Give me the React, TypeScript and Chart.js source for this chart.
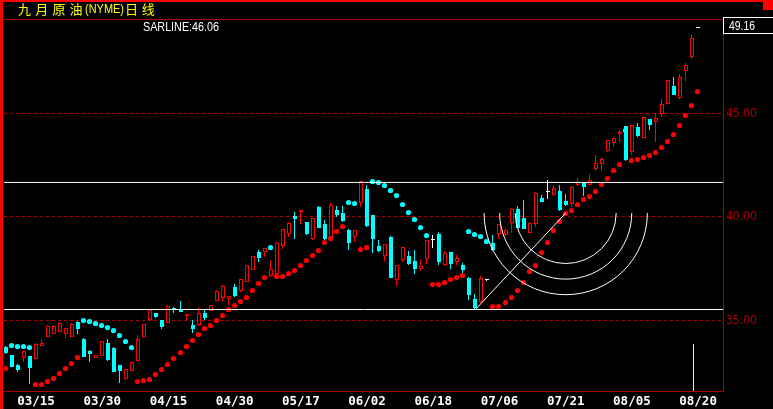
import React, { useEffect, useRef } from 'react';
import { Chart, registerables } from 'chart.js';

Chart.register(...registerables);

// ---------------- data ----------------
const opens = [
  33.70, 33.32, 32.86, 33.19, 33.28, 33.16, 33.77, 34.21, 34.35, 34.45,
  34.37, 34.21, 34.95, 34.13, 33.55, 33.21, 33.29, 33.92, 33.68, 32.84,
  32.15, 32.57, 33.05, 34.21, 35.00, 35.35, 35.01, 34.90, 35.62, 35.53,
  35.22, 34.79, 34.76, 35.35, 35.46, 35.95, 36.11, 36.03, 36.63, 36.42,
  36.86, 37.46, 38.31, 38.31, 37.14, 37.27, 38.59, 39.20, 40.04, 40.23,
  39.76, 38.93, 40.49, 39.68, 39.04, 40.33, 40.20, 39.36, 39.04, 40.68,
  41.34, 40.09, 38.59, 38.11, 39.01, 36.95, 37.91, 38.11, 37.86, 37.49,
  37.96, 38.92, 39.17, 37.67, 38.31, 37.83, 37.67, 37.06, 36.03, 35.90,
  36.98, 38.75, 39.20, 39.12, 39.71, 40.38, 39.93, 39.25, 39.64, 40.93,
  41.25, 41.05, 41.26, 40.78, 40.65, 41.54, 41.62, 41.54, 42.31, 42.55,
  43.18, 43.58, 44.03, 44.39, 43.14, 44.35, 43.84, 44.72, 44.57, 44.97,
  45.48, 46.32, 45.77, 47.06, 47.73, 49.16,
];
const highs = [
  33.75, 33.35, 32.90, 33.55, 33.30, 33.90, 34.10, 34.78, 34.78, 34.92,
  34.65, 34.90, 34.98, 34.15, 33.57, 33.33, 34.02, 34.10, 33.72, 32.86,
  32.67, 33.01, 34.29, 34.85, 35.55, 35.37, 35.03, 35.75, 35.65, 35.93,
  35.32, 35.01, 35.63, 35.53, 35.76, 36.45, 36.71, 36.20, 36.75, 37.01,
  37.70, 38.13, 38.40, 38.51, 37.91, 38.78, 39.43, 39.74, 40.25, 40.35,
  39.78, 39.95, 40.55, 39.85, 40.68, 40.54, 40.52, 39.44, 39.38, 41.75,
  41.54, 40.12, 38.88, 38.71, 39.06, 37.69, 38.55, 38.36, 38.40, 37.91,
  38.90, 39.12, 39.28, 38.35, 38.33, 38.16, 37.77, 37.08, 36.30, 37.16,
  36.98, 39.12, 39.67, 39.44, 40.43, 40.52, 40.81, 39.75, 41.20, 41.05,
  41.78, 41.54, 41.54, 41.10, 41.48, 41.86, 41.64, 42.07, 42.99, 42.89,
  43.74, 43.86, 44.19, 44.41, 44.45, 44.52, 44.90, 44.74, 45.00, 45.69,
  46.63, 46.74, 46.90, 47.44, 48.78, 49.16,
];
const lows = [
  33.40, 32.74, 32.50, 33.00, 31.91, 33.14, 33.75, 34.18, 34.33, 34.43,
  34.16, 34.18, 34.35, 33.22, 33.00, 33.19, 33.27, 33.06, 32.50, 31.99,
  32.13, 32.55, 33.03, 34.19, 34.98, 35.14, 34.57, 34.88, 35.37, 35.41,
  35.01, 34.42, 34.74, 35.01, 35.44, 35.93, 35.95, 35.74, 36.15, 36.40,
  36.84, 37.44, 37.83, 38.07, 37.12, 37.25, 38.43, 39.04, 38.96, 39.65,
  39.11, 38.91, 39.45, 38.88, 39.02, 40.00, 39.78, 38.40, 38.80, 40.49,
  39.54, 38.27, 38.33, 37.88, 37.04, 36.66, 37.83, 37.67, 37.24, 37.40,
  37.75, 38.48, 37.67, 37.65, 37.48, 37.67, 37.30, 35.98, 35.53, 35.85,
  36.98, 38.38, 38.96, 39.10, 39.23, 39.45, 39.42, 39.23, 39.52, 40.71,
  40.89, 41.03, 40.31, 40.55, 40.49, 41.52, 41.00, 41.52, 42.23, 42.23,
  43.16, 43.39, 43.63, 42.72, 42.99, 43.88, 43.82, 44.19, 43.63, 44.84,
  45.46, 45.88, 45.68, 46.57, 47.62, 49.16,
];
const closes = [
  33.43, 32.76, 32.60, 33.52, 32.71, 33.86, 33.92, 34.73, 34.74, 34.90,
  34.63, 34.83, 34.59, 33.24, 33.39, 33.31, 34.00, 33.08, 32.52, 32.55,
  32.65, 32.99, 34.13, 34.82, 35.53, 35.16, 34.69, 35.72, 35.53, 35.43,
  35.29, 34.57, 35.34, 35.10, 35.74, 36.43, 36.66, 36.17, 36.17, 36.99,
  37.67, 38.11, 38.00, 38.49, 37.48, 38.75, 39.41, 39.72, 39.89, 40.33,
  39.20, 39.93, 39.47, 38.96, 40.57, 40.09, 39.80, 38.75, 39.36, 41.73,
  39.56, 38.93, 38.35, 38.69, 37.06, 37.67, 38.54, 37.75, 37.51, 37.62,
  38.88, 38.92, 37.83, 38.27, 37.72, 38.02, 37.46, 36.22, 35.58, 37.06,
  36.98, 38.40, 39.65, 39.36, 40.40, 39.47, 39.44, 39.73, 41.14, 40.73,
  41.25, 41.38, 40.33, 40.57, 41.46, 41.67, 41.45, 41.81, 42.63, 42.79,
  43.71, 43.84, 44.11, 42.74, 44.43, 43.90, 44.84, 44.43, 44.77, 45.45,
  46.61, 45.90, 46.76, 47.33, 48.67, 49.16,
];
// Parabolic SAR, one value per bar (below price = rising, above = falling)
const sarValues = [
  32.66, 33.77, 33.76, 33.74, 33.70, 31.92, 31.92, 32.03, 32.21, 32.42,
  32.66, 32.90, 33.19, 34.98, 34.93, 34.86, 34.76, 34.64, 34.50, 34.26,
  33.97, 33.68, 32.03, 32.08, 32.16, 32.37, 32.61, 32.86, 33.16, 33.45,
  33.75, 34.05, 34.33, 34.61, 34.77, 34.98, 35.26, 35.55, 35.71, 35.90,
  36.13, 36.43, 36.77, 37.09, 38.51, 37.14, 37.14, 37.25, 37.40, 37.64,
  37.88, 38.12, 38.36, 38.75, 38.94, 39.28, 39.52, 40.68, 40.63, 38.44,
  38.54, 41.73, 41.68, 41.54, 41.30, 41.02, 40.58, 40.23, 39.89, 39.47,
  39.09, 36.72, 36.75, 36.85, 36.96, 37.06, 37.19, 39.28, 39.17, 39.04,
  38.83, 35.66, 35.69, 35.88, 36.09, 36.43, 36.85, 37.35, 37.67, 38.27,
  38.75, 39.36, 39.80, 40.15, 40.33, 40.58, 40.85, 40.97, 41.21, 41.57,
  41.84, 42.23, 42.55, 44.20, 42.74, 42.79, 42.86, 42.99, 43.13, 43.34,
  43.63, 44.00, 44.43, 44.92, 45.40, 46.06,
];
const tickBars = [5, 16, 27, 38, 49, 60, 71, 82, 93, 104, 115];
const tickLabels = ['03/15', '03/30', '04/15', '04/30', '05/17', '06/02', '06/18', '07/06', '07/21', '08/05', '08/20'];
const priceTicks = [35, 40, 45];
const supportLevels = [41.67, 35.53];
const fibStart = { bar: 78, price: 35.53 };
const fibEnd = { bar: 93, price: 40.19 };
const fibRatios = [0.382, 0.5, 0.618];
const cursorBar = { bar: 114.4, top: 33.86 };
const titleParts = ['九月原油', '(NYME)', '日线'];
const sarName = 'SARLINE';

// ---------------- styles / layout ----------------
const W = 773;
const H = 409;
const RED = '#ff0000';
const CYAN = '#00ffff';
const DARK_RED = '#b00000';
const BAR_STEP = 6.027;
const X_MIN = -(4.97 - 3) / BAR_STEP;
const X_MAX = X_MIN + 720 / BAR_STEP;
const Y_MAX = 45 + (113.5 - 19) / 20.7;
const Y_MIN = Y_MAX - 372 / 20.7;

function pickFamily(cands: string[], size: number): string | null {
  const c = document.createElement('canvas').getContext('2d')!;
  c.font = `${size}px monospace`;
  const base = c.measureText('45.00 SARLINE').width;
  for (const f of cands) {
    c.font = `${size}px "${f}", monospace`;
    if (Math.abs(c.measureText('45.00 SARLINE').width - base) > 0.2) return f;
  }
  return null;
}

function drawText(
  ctx: CanvasRenderingContext2D, text: string, x: number, y: number, font: string,
  color: string, width?: number, baseline: CanvasTextBaseline = 'alphabetic', spacing = '0px',
) {
  ctx.save();
  ctx.font = font;
  ctx.fillStyle = color;
  ctx.textBaseline = baseline;
  ctx.textAlign = 'left';
  (ctx as any).letterSpacing = spacing;
  if (width) {
    const w = ctx.measureText(text).width;
    ctx.translate(x, y);
    ctx.scale(width / w, 1);
    ctx.fillText(text, 0, 0);
  } else {
    ctx.fillText(text, x, y);
  }
  ctx.restore();
}

export default function App() {
  const ref = useRef<HTMLCanvasElement>(null);

  useEffect(() => {
    document.body.style.margin = '0';
    document.body.style.background = '#000';
    const narrow = pickFamily(['Liberation Sans Narrow', 'DejaVu Sans Condensed'], 13);
    const yFont = narrow === 'Liberation Sans Narrow'
      ? { family: '"Liberation Sans Narrow"', size: 13 }
      : narrow ? { family: `"${narrow}"`, size: 12 } : { family: '"Liberation Sans"', size: 11 };

    const n = closes.length;
    const colorOf = (i: number) => (closes[i] > opens[i] ? RED : closes[i] < opens[i] ? CYAN : '#ffffff');
    const colors = closes.map((_, i) => colorOf(i));
    const bodyFill = closes.map((_, i) => (closes[i] > opens[i] ? '#000000' : colorOf(i)));

    const bodies = opens.map((o, i) => {
      const c = closes[i];
      return { x: i, y: o === c ? [o - 0.02, o + 0.02] : [Math.min(o, c), Math.max(o, c)] };
    });
    const wicks = lows.map((l, i) => ({ x: i, y: [l, highs[i]] }));
    const sarBelow = sarValues.map((v, i) => (v < closes[i] ? { x: i, y: v } : null)).filter(Boolean);
    const sarAbove = sarValues.map((v, i) => (v >= closes[i] ? { x: i, y: v } : null)).filter(Boolean);

    const decor = {
      id: 'decor',
      beforeDraw(chart: any) {
        const ctx = chart.ctx as CanvasRenderingContext2D;
        ctx.save();
        ctx.fillStyle = '#000';
        ctx.fillRect(0, 0, W, H);
        ctx.restore();
      },
      // snap the marks onto whole device pixels, as the original terminal draws them
      beforeDatasetsDraw(chart: any) {
        chart.getSortedVisibleDatasetMetas().forEach((meta: any) => {
          const snap = chart.data.datasets[meta.index].snap;
          if (!snap) return;
          meta.data.forEach((el: any) => {
            const X = Math.round(el.x);
            if (snap === 'body' || snap === 'wick') {
              el.x = snap === 'body' ? X : X - 0.5;
              const t = Math.round(el.y);
              let b = Math.round(el.base);
              if (b === t) b = t + 1;
              el.y = t;
              el.base = b;
            } else if (snap === 'point') {
              el.x = X - 0.5;
              el.y = Math.round(el.y - 0.5) + 0.5;
            }
          });
        });
      },
      afterDatasetsDraw(chart: any) {
        const ctx = chart.ctx as CanvasRenderingContext2D;
        const xs = chart.scales.x;
        const ys = chart.scales.y;
        const ax = xs.getPixelForValue(fibStart.bar);
        const ay = ys.getPixelForValue(fibStart.price);
        const bx = xs.getPixelForValue(fibEnd.bar);
        const by = ys.getPixelForValue(fibEnd.price);
        const d = Math.hypot(bx - ax, by - ay);
        const a = chart.chartArea;
        ctx.save();
        ctx.beginPath();
        ctx.rect(a.left, a.top, a.right - a.left, a.bottom - a.top);
        ctx.clip();
        ctx.strokeStyle = '#ffffff';
        ctx.lineWidth = 1;
        for (const r of fibRatios) {
          ctx.beginPath();
          ctx.arc(bx, by, r * d, 0, Math.PI);
          ctx.stroke();
        }
        ctx.restore();
      },
      afterDraw(chart: any) {
        const ctx = chart.ctx as CanvasRenderingContext2D;
        const a = chart.chartArea;
        ctx.save();
        ctx.fillStyle = DARK_RED;
        ctx.fillRect(a.left, a.top, a.right - a.left, 1);
        ctx.fillStyle = RED;
        ctx.fillRect(0, 0, W, 2);
        ctx.fillRect(0, 0, 3, H);
        ctx.fillRect(763, 0, 10, 10);
        ctx.strokeStyle = '#ffffff';
        ctx.lineWidth = 1;
        ctx.strokeRect(723.5, 17.5, 50, 16);
        ctx.restore();
        const last = closes[n - 1].toFixed(2);
        drawText(ctx, last, 729, 30, '13px "Liberation Sans"', '#ffffff', 26);
        drawText(ctx, `${sarName}:${sarValues[n - 1].toFixed(2)}`, 143, 31, '13px "Liberation Sans"', '#ffffff', 76);
        const cjk = '13px "Noto Sans CJK SC"';
        drawText(ctx, titleParts[0], 18, 9, cjk, '#ffff00', undefined, 'middle', '4.2px');
        drawText(ctx, titleParts[1], 85, 9.5, '13px "Liberation Sans"', '#ffff00', 39, 'middle');
        drawText(ctx, titleParts[2], 125, 9, cjk, '#ffff00', undefined, 'middle', '3.7px');
      },
    };

    const lineDs = (data: any[]) => ({
      type: 'line' as const,
      data,
      borderColor: '#ffffff',
      borderWidth: 1,
      pointRadius: 0,
      fill: false,
      tension: 0,
      order: 1,
    });

    const chart = new Chart(ref.current!, {
      type: 'bar',
      data: {
        datasets: [
          ...supportLevels.map((lv) => lineDs([{ x: X_MIN, y: lv }, { x: X_MAX, y: lv }])),
          lineDs([{ x: fibStart.bar, y: fibStart.price }, { x: fibEnd.bar, y: fibEnd.price }]),
          {
            type: 'bar',
            snap: 'body',
            data: bodies as any,
            backgroundColor: bodyFill,
            borderColor: colors,
            borderWidth: 1,
            borderSkipped: false,
            barThickness: 4,
            grouped: false,
            inflateAmount: 0,
            order: 2,
          } as any,
          {
            type: 'bar',
            snap: 'wick',
            data: wicks as any,
            backgroundColor: colors,
            borderWidth: 0,
            barThickness: 1,
            grouped: false,
            inflateAmount: 0,
            order: 3,
          } as any,
          {
            type: 'bar',
            snap: 'wick',
            data: [{ x: cursorBar.bar, y: [Y_MIN, cursorBar.top] }] as any,
            backgroundColor: '#ffff00',
            borderWidth: 0,
            barThickness: 1,
            grouped: false,
            inflateAmount: 0,
            order: 3,
          } as any,
          {
            type: 'scatter',
            snap: 'point',
            data: sarBelow as any,
            backgroundColor: RED,
            borderWidth: 0,
            pointRadius: 2.6,
            pointStyle: 'circle',
            order: 4,
          } as any,
          {
            type: 'scatter',
            snap: 'point',
            data: sarAbove as any,
            backgroundColor: CYAN,
            borderWidth: 0,
            pointRadius: 2.6,
            pointStyle: 'circle',
            order: 4,
          } as any,
        ],
      },
      options: {
        responsive: false,
        animation: false,
        devicePixelRatio: 1,
        events: [],
        layout: { padding: { left: 3, top: 19, right: 0, bottom: 0 } },
        plugins: {
          legend: { display: false },
          tooltip: { enabled: false },
          title: { display: false },
        },
        scales: {
          x: {
            type: 'linear',
            min: X_MIN,
            max: X_MAX,
            offset: false,
            grid: { display: false, drawTicks: false },
            border: { display: true, color: DARK_RED, width: 1 },
            ticks: {
              color: '#ffffff',
              font: { family: '"DejaVu Sans Mono"', size: 12.5, weight: 'bold' },
              padding: 3,
              autoSkip: false,
              maxRotation: 0,
              minRotation: 0,
              callback: (_v: any, idx: number) => tickLabels[idx],
            },
            afterBuildTicks: (s: any) => {
              s.ticks = tickBars.map((v) => ({ value: v }));
            },
            afterFit: (s: any) => {
              s.height = 18;
            },
          },
          y: {
            type: 'linear',
            position: 'right',
            min: Y_MIN,
            max: Y_MAX,
            grid: { color: DARK_RED, lineWidth: 1, drawTicks: false, borderDash: [3, 3] } as any,
            border: { display: true, color: DARK_RED, width: 1, dash: [3, 3] },
            ticks: {
              color: DARK_RED,
              font: yFont,
              padding: 3,
              callback: (v: any) => Number(v).toFixed(2),
            },
            afterBuildTicks: (s: any) => {
              s.ticks = priceTicks.map((v) => ({ value: v }));
            },
            afterFit: (s: any) => {
              s.width = 50;
            },
          },
        },
      } as any,
      plugins: [decor],
    });

    return () => chart.destroy();
  }, []);

  return (
    <div style={{ position: 'fixed', left: 0, top: 0, width: W, height: H, background: '#000' }}>
      <canvas ref={ref} width={W} height={H} style={{ display: 'block', width: W, height: H }} />
    </div>
  );
}
